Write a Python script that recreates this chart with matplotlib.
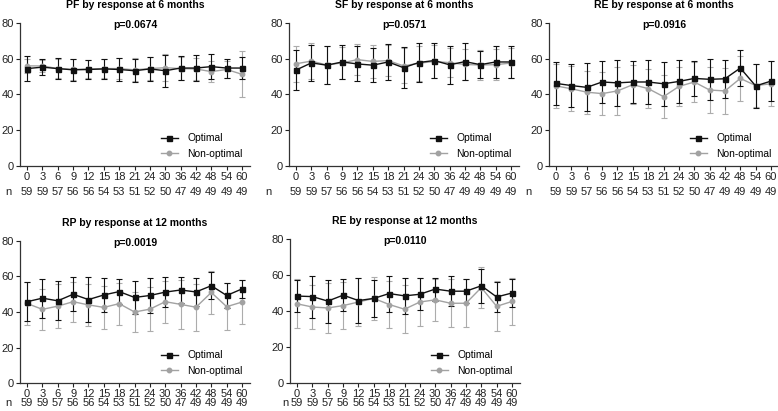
import numpy as np
import matplotlib.pyplot as plt
from matplotlib.lines import Line2D

plt.rcParams['font.family'] = ['Liberation Sans', 'DejaVu Sans']

months = ['0', '3', '6', '9', '12', '15', '18', '21', '24', '30', '36', '42', '48', '54', '60']
n_counts = [59, 59, 57, 56, 56, 54, 53, 51, 52, 50, 47, 49, 49, 49, 49]

# PF by response at 6 months
pf_opt = [54.5, 55.3, 54.5, 53.8, 54.0, 54.3, 54.0, 53.3, 54.3, 53.3, 54.8, 54.8, 55.6, 54.8, 54.8]
pf_opt_sd = [7.0, 4.3, 5.8, 6.1, 5.3, 5.8, 6.3, 6.3, 6.8, 9.0, 6.6, 7.4, 7.2, 5.3, 6.2]
pf_non = [56.0, 56.0, 54.5, 54.0, 54.3, 54.5, 54.5, 53.8, 54.5, 55.0, 54.5, 54.3, 52.8, 54.0, 51.3]
pf_non_sd = [4.0, 3.5, 5.5, 6.0, 5.0, 5.5, 6.0, 6.5, 6.5, 7.5, 6.5, 6.0, 6.0, 5.0, 12.8]

# SF by response at 6 months
sf_opt = [53.7, 57.7, 56.4, 58.2, 57.1, 56.4, 58.2, 55.0, 57.9, 59.0, 56.6, 58.4, 56.7, 58.2, 58.2]
sf_opt_sd = [11.4, 10.0, 10.8, 9.5, 9.8, 9.5, 10.0, 11.3, 11.0, 10.0, 10.8, 10.3, 7.6, 9.0, 9.1]
sf_non = [57.2, 58.7, 56.5, 57.7, 59.5, 58.5, 59.0, 56.0, 57.5, 58.5, 57.8, 56.8, 56.5, 56.7, 57.6]
sf_non_sd = [10.0, 10.0, 10.5, 9.0, 8.5, 9.0, 8.5, 9.8, 9.8, 9.0, 8.0, 8.5, 8.5, 8.7, 8.3]

# RE by response at 6 months
re6_opt = [46.2, 45.0, 44.0, 47.0, 46.5, 47.0, 47.0, 46.0, 47.3, 49.0, 48.5, 48.8, 54.8, 44.8, 47.5]
re6_opt_sd = [12.0, 12.0, 13.5, 11.5, 13.0, 11.5, 12.5, 12.3, 12.0, 10.0, 11.5, 10.5, 10.0, 12.3, 11.0]
re6_non = [44.8, 43.2, 41.3, 40.5, 42.0, 45.5, 43.3, 38.8, 44.5, 47.0, 42.5, 42.0, 49.0, 45.0, 46.0]
re6_non_sd = [12.5, 12.5, 12.0, 12.0, 13.5, 11.0, 11.0, 12.0, 11.0, 11.0, 13.0, 13.0, 12.5, 12.0, 12.5]

# RP by response at 12 months
rp_opt = [45.8, 47.8, 46.3, 50.0, 47.0, 49.6, 51.5, 48.2, 49.3, 51.2, 52.4, 51.3, 54.8, 49.3, 53.0]
rp_opt_sd = [11.0, 11.0, 11.0, 9.7, 12.5, 9.7, 7.0, 9.5, 9.7, 8.3, 7.5, 8.0, 7.5, 6.8, 5.3]
rp_non = [44.8, 41.5, 43.3, 45.8, 44.0, 42.6, 44.7, 40.0, 41.6, 45.8, 44.3, 42.7, 51.0, 43.0, 45.6]
rp_non_sd = [12.3, 11.7, 12.3, 11.3, 12.0, 12.0, 11.8, 11.5, 12.3, 11.8, 13.7, 13.3, 12.0, 13.2, 12.5]

# RE by response at 12 months
re12_opt = [48.3, 48.0, 45.5, 48.8, 45.8, 47.0, 49.7, 48.4, 49.3, 52.2, 51.0, 51.0, 54.0, 47.8, 50.0]
re12_opt_sd = [9.0, 11.7, 12.0, 9.0, 12.7, 10.5, 10.0, 10.0, 9.0, 6.4, 8.3, 6.6, 9.6, 8.4, 8.0]
re12_non = [44.0, 42.2, 41.7, 43.0, 45.0, 47.0, 43.6, 41.0, 45.0, 46.2, 44.3, 44.3, 53.0, 42.6, 45.3]
re12_non_sd = [13.7, 12.2, 14.0, 13.0, 13.5, 12.0, 13.3, 13.3, 13.3, 11.7, 13.3, 13.3, 11.3, 13.8, 13.0]

panels = [
    ("PF by response at 6 months", "p=0.0674", pf_opt, pf_opt_sd, pf_non, pf_non_sd),
    ("SF by response at 6 months", "p=0.0571", sf_opt, sf_opt_sd, sf_non, sf_non_sd),
    ("RE by response at 6 months", "p=0.0916", re6_opt, re6_opt_sd, re6_non, re6_non_sd),
    ("RP by response at 12 months", "p=0.0019", rp_opt, rp_opt_sd, rp_non, rp_non_sd),
    ("RE by response at 12 months", "p=0.0110", re12_opt, re12_opt_sd, re12_non, re12_non_sd),
]

W, H = 778, 411
# axes boxes in pixels: left, top, width, height
boxes = [(20, 23, 230, 143), (289, 23, 230, 143), (549, 23, 230, 143),
         (20, 241, 230, 142), (290, 239, 230, 144)]
n_drop = [26, 26, 26, 20, 20]      # px below axis for the n row
n_left = [19, 28, 28, 19, 12]      # px left of first point for the "n"

OPT_C = '#111111'
NON_C = '#a2a2a2'

fig = plt.figure(figsize=(W / 100, H / 100), dpi=100)
x = np.arange(len(months))

for i, (title, ptxt, opt, opt_sd, non, non_sd) in enumerate(panels):
    l, t, w, h = boxes[i]
    ax = fig.add_axes([l / W, 1 - (t + h) / H, w / W, h / H])
    ax.errorbar(x, non, yerr=non_sd, color=NON_C, ecolor='#acacac', lw=1.0,
                elinewidth=0.8, capsize=2.5, capthick=0.8, marker='o', ms=3.2)
    ax.errorbar(x, opt, yerr=opt_sd, color=OPT_C, ecolor=OPT_C, lw=1.0,
                elinewidth=0.8, capsize=2.5, capthick=0.8, marker='s', ms=3.6)
    ax.set_ylim(0, 80)
    ax.set_xlim(-0.46, 14.52)
    ax.set_yticks([0, 20, 40, 60, 80])
    ax.set_xticks(x)
    ax.set_xticklabels(months)
    ax.tick_params(labelsize=8, length=3, width=0.8, pad=1.5, colors='#222222')
    for s in ['top', 'right']:
        ax.spines[s].set_visible(False)
    for s in ['left', 'bottom']:
        ax.spines[s].set_linewidth(0.9)
        ax.spines[s].set_color('#333333')
    ax.set_title(title, fontsize=7.5, fontweight='bold', pad=10.5)
    ax.text(0.5, 0.985, ptxt, transform=ax.transAxes, ha='center', va='center',
            fontsize=7.5, fontweight='bold')
    dy = -n_drop[i] * 0.72
    for xi, nv in zip(x, n_counts):
        ax.annotate(str(nv), xy=(xi, 0), xycoords=('data', 'axes fraction'),
                    xytext=(0, dy), textcoords='offset points',
                    ha='center', va='center', fontsize=8, color='#222222')
    ax.annotate('n', xy=(0, 0), xycoords=('data', 'axes fraction'),
                xytext=(-n_left[i] * 0.72, dy), textcoords='offset points',
                ha='center', va='center', fontsize=8, color='#222222')
    handles = [Line2D([], [], color=OPT_C, lw=1.0, marker='s', ms=3.6),
               Line2D([], [], color=NON_C, lw=1.0, marker='o', ms=3.2)]
    ax.legend(handles, ['Optimal', 'Non-optimal'], loc='lower right', frameon=False,
              fontsize=7.4, handlelength=1.6, handletextpad=0.95,
              borderaxespad=0.3, labelspacing=0.55, bbox_to_anchor=(1.0, 0.0))

fig.savefig('out.png', dpi=100)
